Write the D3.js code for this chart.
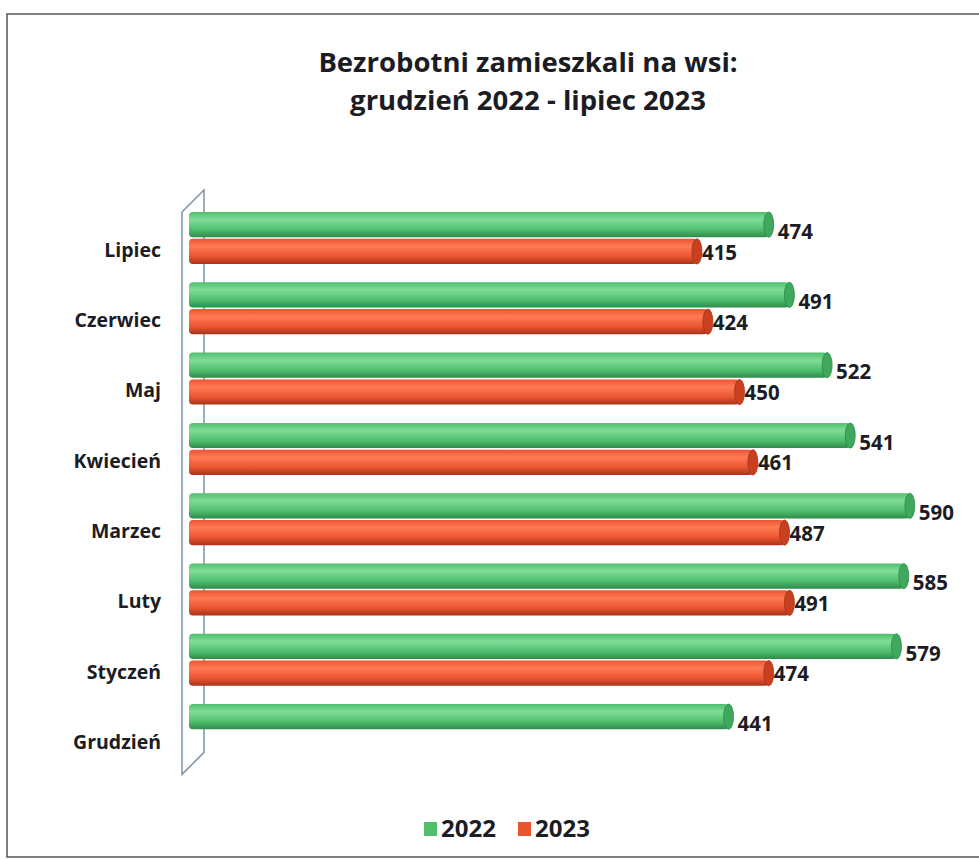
<!DOCTYPE html>
<html>
<head>
<meta charset="utf-8">
<script src="https://cdn.jsdelivr.net/npm/d3@7"></script>
<style>
  body { margin: 0; background: #fff; }
  text { font-family: "Open Sans", Lato, sans-serif; font-weight: 700; fill: #1c1c24; }
</style>
</head>
<body>
<div id="chart"></div>
<script>
// data, top row first
var months = ['Lipiec', 'Czerwiec', 'Maj', 'Kwiecień', 'Marzec', 'Luty', 'Styczeń', 'Grudzień']
var years = ['2022', '2023']
var values2022 = [474, 491, 522, 541, 590, 585, 579, 441]
var values2023 = [415, 424, 450, 461, 487, 491, 474, null]
var titleLines = ['Bezrobotni zamieszkali na wsi:', 'grudzień 2022 - lipiec 2023']

var colors = {
  '2022': { light: '#7fdc98', mid: '#4fbf6e', dark: '#2f8a4a', cap: '#3fa85c' },
  '2023': { light: '#ff7a55', mid: '#ea5530', dark: '#a8321a', cap: '#c8401f' }
}

var W = 979, H = 860
var svg = d3.select('#chart').append('svg')
  .attr('width', W)
  .attr('height', H)

var defs = svg.append('defs')
years.forEach(y => {
  var g = defs.append('linearGradient')
    .attr('id', 'grad' + y)
    .attr('x1', 0).attr('y1', 0).attr('x2', 0).attr('y2', 1)
  g.append('stop').attr('offset', '0%').attr('stop-color', colors[y].mid)
  g.append('stop').attr('offset', '30%').attr('stop-color', colors[y].light)
  g.append('stop').attr('offset', '70%').attr('stop-color', colors[y].mid)
  g.append('stop').attr('offset', '100%').attr('stop-color', colors[y].dark)
})

// outer frame
svg.append('rect')
  .attr('x', 7).attr('y', 14)
  .attr('width', W + 10).attr('height', 843)
  .style('fill', 'none')
  .style('stroke', '#555')
  .style('stroke-width', 1.5)

// title
svg.selectAll('.title').data(titleLines).enter()
  .append('text')
  .attr('class', 'title')
  .attr('x', 528)
  .attr('y', (d, i) => 72 + i * 38)
  .style('text-anchor', 'middle')
  .style('font-size', '27.5px')
  .text(d => d)

var xMap = d3.scaleLinear()
  .domain([0, 600])
  .range([192, 922])

var yMap = d3.scaleBand()
  .domain(months)
  .range([212, 212 + months.length * 70.3])

var ySub = d3.scaleBand()
  .domain(years)
  .range([0, 52])
  .paddingInner(0.06)

// 3D wall on the left
var wallTop = yMap.range()[0], wallBottom = yMap.range()[1]
svg.append('path')
  .attr('d', 'M182,' + wallTop + ' L204,' + (wallTop - 22) + ' L204,' + (wallBottom - 22) +
    ' L182,' + wallBottom + ' Z')
  .style('fill', 'none')
  .style('stroke', '#7d93a6')
  .style('stroke-width', 1.5)

var rows = []
months.forEach((m, i) => {
  rows.push({ month: m, year: '2022', value: values2022[i] })
  if (values2023[i] != null) rows.push({ month: m, year: '2023', value: values2023[i] })
})

var barX0 = 189
var gBars = svg.append('g')

var bar = gBars.selectAll('.bar').data(rows).enter()
  .append('g')
  .attr('class', 'bar')
  .attr('transform', d => 'translate(0,' + (yMap(d.month) + ySub(d.year)) + ')')

var bh = ySub.bandwidth()

bar.append('rect')
  .attr('x', barX0)
  .attr('y', 0)
  .attr('width', d => xMap(d.value) - barX0)
  .attr('height', bh)
  .attr('rx', 4)
  .style('fill', d => 'url(#grad' + d.year + ')')

bar.append('ellipse')
  .attr('cx', d => xMap(d.value))
  .attr('cy', bh / 2)
  .attr('rx', 5)
  .attr('ry', bh / 2)
  .style('fill', d => colors[d.year].cap)
  .style('stroke', d => colors[d.year].dark)
  .style('stroke-width', 0.8)

bar.append('text')
  .attr('x', d => xMap(d.value) + (d.year === '2022' ? 9 : 5))
  .attr('y', d => bh / 2 + (d.year === '2022' ? 7 : 1))
  .attr('dy', '0.35em')
  .style('font-size', '20.5px')
  .text(d => d.value)

// category labels
svg.selectAll('.cat').data(months).enter()
  .append('text')
  .attr('class', 'cat')
  .attr('x', 161)
  .attr('y', d => yMap(d) + 38)
  .attr('dy', '0.35em')
  .style('text-anchor', 'end')
  .style('font-size', '19.5px')
  .text(d => d)

// legend
var legend = svg.append('g').attr('transform', 'translate(424,829)')
var legendX = d3.scaleOrdinal().domain(years).range([0, 94])
var lg = legend.selectAll('g').data(years).enter()
  .append('g')
  .attr('transform', d => 'translate(' + legendX(d) + ',0)')
lg.append('rect')
  .attr('x', 0).attr('y', -7)
  .attr('width', 13).attr('height', 14)
  .style('fill', d => colors[d].mid)
lg.append('text')
  .attr('x', 17)
  .attr('y', 0)
  .attr('dy', '0.35em')
  .style('font-size', '24px')
  .text(d => d)
</script>
</body>
</html>
